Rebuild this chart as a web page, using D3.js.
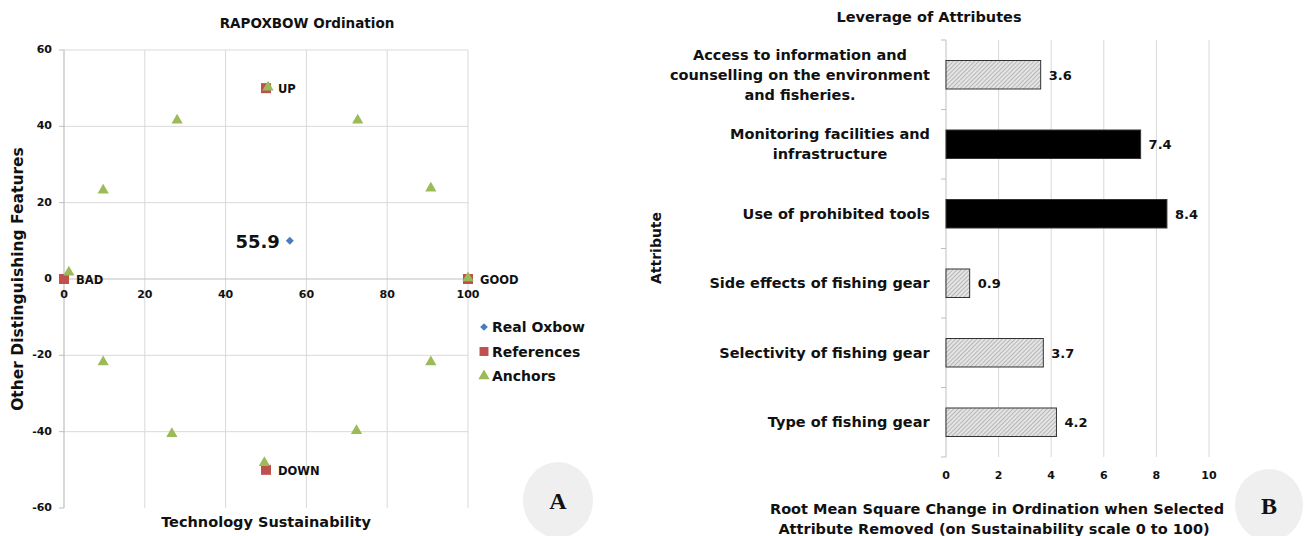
<!DOCTYPE html>
<html>
<head>
<meta charset="utf-8">
<script src="https://cdn.jsdelivr.net/npm/d3@7"></script>
<style>
  body { margin: 0; background: #fff; }
  text { font-family: "DejaVu Sans", sans-serif; font-weight: bold; fill: #111; }
</style>
</head>
<body>
<script>
// ---- chart A data ----
const realOxbow = [{ x: 55.9, y: 10 }]
const references = [
  { x: 0, y: 0, label: 'BAD' },
  { x: 100, y: 0, label: 'GOOD' },
  { x: 50, y: 50, label: 'UP' },
  { x: 50, y: -50, label: 'DOWN' }
]
const anchorsX = [1.2, 9.7, 28, 50.5, 72.7, 90.8, 100, 90.8, 72.4, 49.6, 26.7, 9.7]
const anchorsY = [1.5, 23, 41.3, 50, 41.3, 23.5, 0, -22, -40, -48.4, -40.8, -22]
const ticksA_x = [0, 20, 40, 60, 80, 100]
const ticksA_y = [-60, -40, -20, 0, 20, 40, 60]

// ---- chart B data ----
const attributes = [
  'Access to information and|counselling on the environment|and fisheries.',
  'Monitoring facilities and|infrastructure',
  'Use of prohibited tools',
  'Side effects of fishing gear',
  'Selectivity of fishing gear',
  'Type of fishing gear'
]
const leverage = [3.6, 7.4, 8.4, 0.9, 3.7, 4.2]
const ticksB = [0, 2, 4, 6, 8, 10]

const svg = d3.select('body').append('svg').attr('width', 1314).attr('height', 536)

// ================= Chart A =================
const xA = d3.scaleLinear().domain([0, 100]).range([64, 468])
const yA = d3.scaleLinear().domain([-60, 60]).range([508, 50])

const gA = svg.append('g')

gA.selectAll('line.vgrid')
  .data(ticksA_x.slice(1))
  .enter().append('line')
    .attr('class', 'vgrid')
    .attr('x1', d => xA(d)).attr('x2', d => xA(d))
    .attr('y1', yA(60)).attr('y2', yA(-60))
    .attr('stroke', '#d9d9d9').attr('stroke-width', 1)

gA.selectAll('line.hgrid')
  .data(ticksA_y.filter(d => d !== 0 && d !== -60))
  .enter().append('line')
    .attr('class', 'hgrid')
    .attr('x1', xA(0)).attr('x2', xA(100))
    .attr('y1', d => yA(d)).attr('y2', d => yA(d))
    .attr('stroke', '#d9d9d9').attr('stroke-width', 1)

// zero line + y axis
gA.append('line')
  .attr('x1', xA(0)).attr('x2', xA(100))
  .attr('y1', yA(0)).attr('y2', yA(0))
  .attr('stroke', '#bfbfbf').attr('stroke-width', 1.2)
gA.append('line')
  .attr('x1', xA(0)).attr('x2', xA(0))
  .attr('y1', yA(60)).attr('y2', yA(-60))
  .attr('stroke', '#bfbfbf').attr('stroke-width', 1.2)

gA.selectAll('line.ytick')
  .data(ticksA_y)
  .enter().append('line')
    .attr('class', 'ytick')
    .attr('x1', xA(0) - 5).attr('x2', xA(0))
    .attr('y1', d => yA(d)).attr('y2', d => yA(d))
    .attr('stroke', '#bfbfbf')

gA.selectAll('text.ylab')
  .data(ticksA_y)
  .enter().append('text')
    .attr('class', 'ylab')
    .attr('x', xA(0) - 12)
    .attr('y', d => yA(d))
    .attr('text-anchor', 'end')
    .attr('dominant-baseline', 'middle')
    .attr('font-size', 11)
    .text(d => d)

gA.selectAll('text.xlab')
  .data(ticksA_x)
  .enter().append('text')
    .attr('class', 'xlab')
    .attr('x', d => xA(d))
    .attr('y', yA(0) + 19)
    .attr('text-anchor', 'middle')
    .attr('font-size', 11)
    .text(d => d)

gA.append('text')
  .attr('x', 307).attr('y', 28)
  .attr('text-anchor', 'middle')
  .attr('font-size', 13.5)
  .text('RAPOXBOW Ordination')

gA.append('text')
  .attr('x', 266).attr('y', 527)
  .attr('text-anchor', 'middle')
  .attr('font-size', 14.5)
  .text('Technology Sustainability')

gA.append('text')
  .attr('transform', 'translate(23,' + yA(0) + ') rotate(-90)')
  .attr('text-anchor', 'middle')
  .attr('font-size', 15.5)
  .text('Other Distinguishing Features')

// references (squares)
gA.selectAll('rect.ref')
  .data(references)
  .enter().append('rect')
    .attr('class', 'ref')
    .attr('x', d => xA(d.x) - 5).attr('y', d => yA(d.y) - 5)
    .attr('width', 10).attr('height', 10)
    .attr('fill', '#c0504d')

gA.selectAll('text.reflab')
  .data(references)
  .enter().append('text')
    .attr('class', 'reflab')
    .attr('x', d => xA(d.x) + 12)
    .attr('y', d => yA(d.y) + 5)
    .attr('font-size', 11.5)
    .text(d => d.label)

// anchors (triangles)
const tri = d3.symbol().type(d3.symbolTriangle).size(55)
gA.selectAll('path.anchor')
  .data(anchorsX)
  .enter().append('path')
    .attr('class', 'anchor')
    .attr('transform', (d, i) => 'translate(' + xA(d) + ',' + (yA(anchorsY[i]) - 1) + ')')
    .attr('d', tri)
    .attr('fill', '#9bbb59')

// real oxbow (diamond)
gA.selectAll('path.real')
  .data(realOxbow)
  .enter().append('path')
    .attr('class', 'real')
    .attr('transform', d => 'translate(' + xA(d.x) + ',' + yA(d.y) + ') rotate(45)')
    .attr('d', d3.symbol().type(d3.symbolSquare).size(32))
    .attr('fill', '#4a7ebb')

gA.selectAll('text.reallab')
  .data(realOxbow)
  .enter().append('text')
    .attr('class', 'reallab')
    .attr('x', d => xA(d.x) - 10)
    .attr('y', d => yA(d.y) + 7)
    .attr('text-anchor', 'end')
    .attr('font-size', 18)
    .text(d => d.x)

// legend
const legend = [
  { name: 'Real Oxbow', kind: 'diamond', color: '#4a7ebb' },
  { name: 'References', kind: 'square', color: '#c0504d' },
  { name: 'Anchors', kind: 'triangle', color: '#9bbb59' }
]
const lg = gA.selectAll('g.legend')
  .data(legend)
  .enter().append('g')
    .attr('class', 'legend')
    .attr('transform', (d, i) => 'translate(484,' + (327 + i * 24.5) + ')')
lg.append('path')
  .attr('d', d => d.kind === 'triangle' ? tri() : d3.symbol().type(d3.symbolSquare).size(d.kind === 'square' ? 80 : 30)())
  .attr('transform', d => d.kind === 'diamond' ? 'rotate(45)' : null)
  .attr('fill', d => d.color)
lg.append('text')
  .attr('x', 8).attr('y', 5)
  .attr('font-size', 14)
  .text(d => d.name)

// badge A
svg.append('ellipse')
  .attr('cx', 558).attr('cy', 500).attr('rx', 35).attr('ry', 38)
  .attr('fill', '#efefef')
svg.append('text')
  .attr('x', 558).attr('y', 509)
  .attr('text-anchor', 'middle')
  .attr('font-size', 24)
  .style('font-family', '"Liberation Serif", serif')
  .text('A')

// ================= Chart B =================
const xB = d3.scaleLinear().domain([0, 10]).range([946, 1209])
const yB = d3.scaleBand().domain(attributes).range([40, 457]).padding(0)

const defs = svg.append('defs')
const pat = defs.append('pattern')
  .attr('id', 'hatch')
  .attr('patternUnits', 'userSpaceOnUse')
  .attr('width', 3).attr('height', 3)
  .attr('patternTransform', 'rotate(45)')
pat.append('rect').attr('width', 3).attr('height', 3).attr('fill', '#e4e4e4')
pat.append('line')
  .attr('x1', 0).attr('y1', 0).attr('x2', 0).attr('y2', 3)
  .attr('stroke', '#8a8a8a').attr('stroke-width', 1)

const gB = svg.append('g')

gB.selectAll('line.grid')
  .data(ticksB.slice(1))
  .enter().append('line')
    .attr('class', 'grid')
    .attr('x1', d => xB(d)).attr('x2', d => xB(d))
    .attr('y1', 40).attr('y2', 457)
    .attr('stroke', '#d9d9d9')

gB.append('line')
  .attr('x1', xB(0)).attr('x2', xB(0))
  .attr('y1', 40).attr('y2', 457)
  .attr('stroke', '#bfbfbf')

gB.selectAll('line.ytick')
  .data(attributes.map(d => yB(d)).concat([457]))
  .enter().append('line')
    .attr('class', 'ytick')
    .attr('x1', xB(0) - 5).attr('x2', xB(0))
    .attr('y1', d => d).attr('y2', d => d)
    .attr('stroke', '#bfbfbf')

gB.selectAll('text.xlab')
  .data(ticksB)
  .enter().append('text')
    .attr('class', 'xlab')
    .attr('x', d => xB(d))
    .attr('y', 479)
    .attr('text-anchor', 'middle')
    .attr('font-size', 11)
    .text(d => d)

const barH = yB.bandwidth() * 0.41
gB.selectAll('rect.bar')
  .data(leverage)
  .enter().append('rect')
    .attr('class', 'bar')
    .attr('x', xB(0))
    .attr('y', (d, i) => yB(attributes[i]) + (yB.bandwidth() - barH) / 2)
    .attr('width', d => xB(d) - xB(0))
    .attr('height', barH)
    .attr('fill', d => d > 5 ? '#000' : 'url(#hatch)')
    .attr('stroke', '#333').attr('stroke-width', 1)

gB.selectAll('text.val')
  .data(leverage)
  .enter().append('text')
    .attr('class', 'val')
    .attr('x', d => xB(d) + 8)
    .attr('y', (d, i) => yB(attributes[i]) + yB.bandwidth() / 2 + 5)
    .attr('font-size', 13)
    .text(d => d.toFixed(1))

// category labels: centred block, widest line right-aligned at 930
gB.selectAll('text.cat')
  .data(attributes)
  .enter().append('text')
    .attr('class', 'cat')
    .attr('text-anchor', 'middle')
    .attr('font-size', 14.5)
    .each(function (d) {
      const lines = d.split('|')
      const t = d3.select(this)
      const cy = yB(d) + yB.bandwidth() / 2
      lines.forEach((l, i) => {
        t.append('tspan')
          .attr('x', 0)
          .attr('y', cy + (i - (lines.length - 1) / 2) * 20 + 5)
          .text(l)
      })
      const w = this.getBBox().width
      t.selectAll('tspan').attr('x', 930 - w / 2)
    })

gB.append('text')
  .attr('x', 929).attr('y', 22)
  .attr('text-anchor', 'middle')
  .attr('font-size', 14.5)
  .text('Leverage of Attributes')

gB.append('text')
  .attr('transform', 'translate(661,248) rotate(-90)')
  .attr('text-anchor', 'middle')
  .attr('font-size', 14)
  .text('Attribute')

gB.append('text')
  .attr('x', 997).attr('y', 514)
  .attr('text-anchor', 'middle')
  .attr('font-size', 14.5)
  .text('Root Mean Square Change in Ordination when Selected')
gB.append('text')
  .attr('x', 994).attr('y', 534)
  .attr('text-anchor', 'middle')
  .attr('font-size', 14.5)
  .text('Attribute Removed (on Sustainability scale 0 to 100)')

// badge B
svg.append('ellipse')
  .attr('cx', 1269).attr('cy', 505).attr('rx', 34).attr('ry', 36)
  .attr('fill', '#efefef')
svg.append('text')
  .attr('x', 1269).attr('y', 514)
  .attr('text-anchor', 'middle')
  .attr('font-size', 24)
  .style('font-family', '"Liberation Serif", serif')
  .text('B')
</script>
</body>
</html>
